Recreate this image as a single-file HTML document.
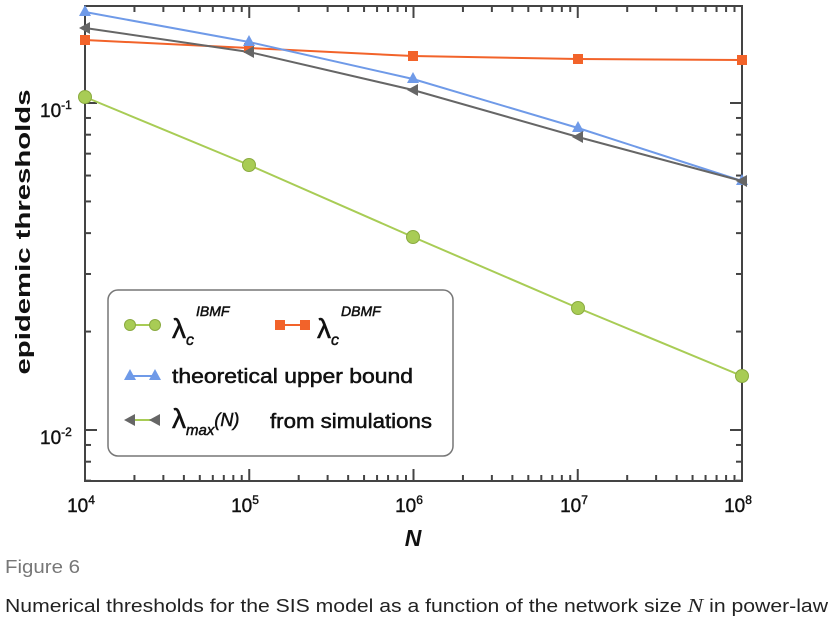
<!DOCTYPE html>
<html><head><meta charset="utf-8"><style>
body{margin:0;background:#fff;width:834px;height:627px;overflow:hidden;font-family:"Liberation Sans",sans-serif}
</style></head><body>
<svg id="s" width="834" height="627" xmlns="http://www.w3.org/2000/svg" style="position:absolute;left:0;top:0">
<g id="ticks" stroke="#444" stroke-width="2"></g>
<rect x="85" y="6" width="657" height="475" fill="none" stroke="#444" stroke-width="2"/>
<polyline points="85,40 249,48 413,56 578,59 742,60" fill="none" stroke="#f2632a" stroke-width="2"/>
<polyline points="85,12 249,42 413,79 578,128 742,181" fill="none" stroke="#6f9ae8" stroke-width="2"/>
<polyline points="85,28 249,52 413,90 578,137 742,181" fill="none" stroke="#666" stroke-width="2"/>
<polyline points="85,97 249,165 413,237 578,308 742,376" fill="none" stroke="#a8cc55" stroke-width="2"/>
<g fill="#f2632a"><rect x="80" y="35" width="10" height="10"/><rect x="244" y="43" width="10" height="10"/><rect x="408" y="51" width="10" height="10"/><rect x="573" y="54" width="10" height="10"/><rect x="737" y="55" width="10" height="10"/></g>
<g fill="#6f9ae8"><polygon points="85,5 79,16 91,16"/><polygon points="249,35 243,46 255,46"/><polygon points="413,72 407,83 419,83"/><polygon points="578,121 572,132 584,132"/><polygon points="742,174 736,185 748,185"/></g>
<g fill="#666"><polygon points="79,28 90,22 90,34"/><polygon points="243,52 254,46 254,58"/><polygon points="407,90 418,84 418,96"/><polygon points="572,137 583,131 583,143"/><polygon points="736,181 747,175 747,187"/></g>
<g fill="#a8cc55" stroke="#8aaa40" stroke-width="1"><circle cx="85" cy="97" r="6.5"/><circle cx="249" cy="165" r="6.5"/><circle cx="413" cy="237" r="6.5"/><circle cx="578" cy="308" r="6.5"/><circle cx="742" cy="376" r="6.5"/></g>
<g font-size="19" fill="#111" text-anchor="middle" stroke="#111" stroke-width="0.4">
<text x="81" y="512">10<tspan font-size="12" dy="-8">4</tspan></text>
<text x="245" y="512">10<tspan font-size="12" dy="-8">5</tspan></text>
<text x="409" y="512">10<tspan font-size="12" dy="-8">6</tspan></text>
<text x="574" y="512">10<tspan font-size="12" dy="-8">7</tspan></text>
<text x="738" y="512">10<tspan font-size="12" dy="-8">8</tspan></text>
</g>
<g font-size="19" fill="#111" stroke="#111" stroke-width="0.4">
<text x="40" y="117">10<tspan font-size="12" dy="-8">-1</tspan></text>
<text x="40" y="444">10<tspan font-size="12" dy="-8">-2</tspan></text>
</g>
<text x="413" y="546" font-size="23" font-weight="bold" font-style="italic" text-anchor="middle" fill="#111">N</text>
<text transform="translate(30,232) rotate(-90)" font-size="20" font-weight="bold" text-anchor="middle" fill="#111" textLength="285" lengthAdjust="spacingAndGlyphs">epidemic thresholds</text>
<rect x="108" y="290" width="345" height="166" rx="10" fill="#fff" stroke="#777" stroke-width="1.5"/>
<line x1="130" y1="325" x2="155" y2="325" stroke="#a8cc55" stroke-width="2"/>
<circle cx="130" cy="325" r="5.5" fill="#a8cc55" stroke="#8aaa40"/><circle cx="155" cy="325" r="5.5" fill="#a8cc55" stroke="#8aaa40"/>
<g fill="#111" stroke="#111" stroke-width="0.5">
<text x="172" y="338" font-size="28">λ<tspan font-size="16" font-style="italic" dy="7">c</tspan><tspan font-size="14" font-style="italic" dx="2" dy="-29">IBMF</tspan></text>
<text x="317" y="338" font-size="28">λ<tspan font-size="16" font-style="italic" dy="7">c</tspan><tspan font-size="14" font-style="italic" dx="2" dy="-29">DBMF</tspan></text>
<text x="172" y="383" font-size="20" textLength="241" lengthAdjust="spacingAndGlyphs">theoretical upper bound</text>
<text x="172" y="428" font-size="28">λ<tspan font-size="15" font-style="italic" dy="7">max</tspan><tspan font-size="18" font-style="italic" dy="-9">(N)</tspan></text>
<text x="270" y="428" font-size="20" textLength="162" lengthAdjust="spacingAndGlyphs">from simulations</text>
</g>
<line x1="280" y1="325" x2="305" y2="325" stroke="#f2632a" stroke-width="2"/>
<rect x="275" y="320" width="10" height="10" fill="#f2632a"/><rect x="300" y="320" width="10" height="10" fill="#f2632a"/>
<line x1="130" y1="376" x2="155" y2="376" stroke="#6f9ae8" stroke-width="2"/>
<polygon points="130,369 124,380 136,380" fill="#6f9ae8"/><polygon points="155,369 149,380 161,380" fill="#6f9ae8"/>
<line x1="130" y1="420" x2="155" y2="420" stroke="#a8cc55" stroke-width="2"/>
<polygon points="124,420 135,414 135,426" fill="#666"/><polygon points="149,420 160,414 160,426" fill="#666"/>
<text x="5" y="573" font-size="18" fill="#777" textLength="75" lengthAdjust="spacingAndGlyphs">Figure 6</text>
<text x="5" y="612" font-size="18" fill="#222" textLength="823" lengthAdjust="spacingAndGlyphs">Numerical thresholds for the SIS model as a function of the network size <tspan font-family="Liberation Serif" font-style="italic" font-size="20">N</tspan> in power-law</text>
</svg>
<script>
var g=document.getElementById('ticks'),s='';
function L(x1,y1,x2,y2){s+='<line x1="'+x1+'" y1="'+y1+'" x2="'+x2+'" y2="'+y2+'"/>';}
var X0=85,DX=164.25;
for(var d=0;d<4;d++){for(var k=1;k<=9;k++){var x=X0+d*DX+Math.log10(k)*DX;var len=k==1?12:6;L(x,481,x,481-len);L(x,6,x,6+len);}}
var DY=327;
for(var e=-3;e<=-1;e++){for(var k=1;k<=9;k++){var y=103-(e+1)*DY-Math.log10(k)*DY;if(y<6||y>481)continue;var len=k==1?12:6;L(85,y,85+len,y);L(742,y,742-len,y);}}
g.innerHTML=s;
</script>
</body></html>
